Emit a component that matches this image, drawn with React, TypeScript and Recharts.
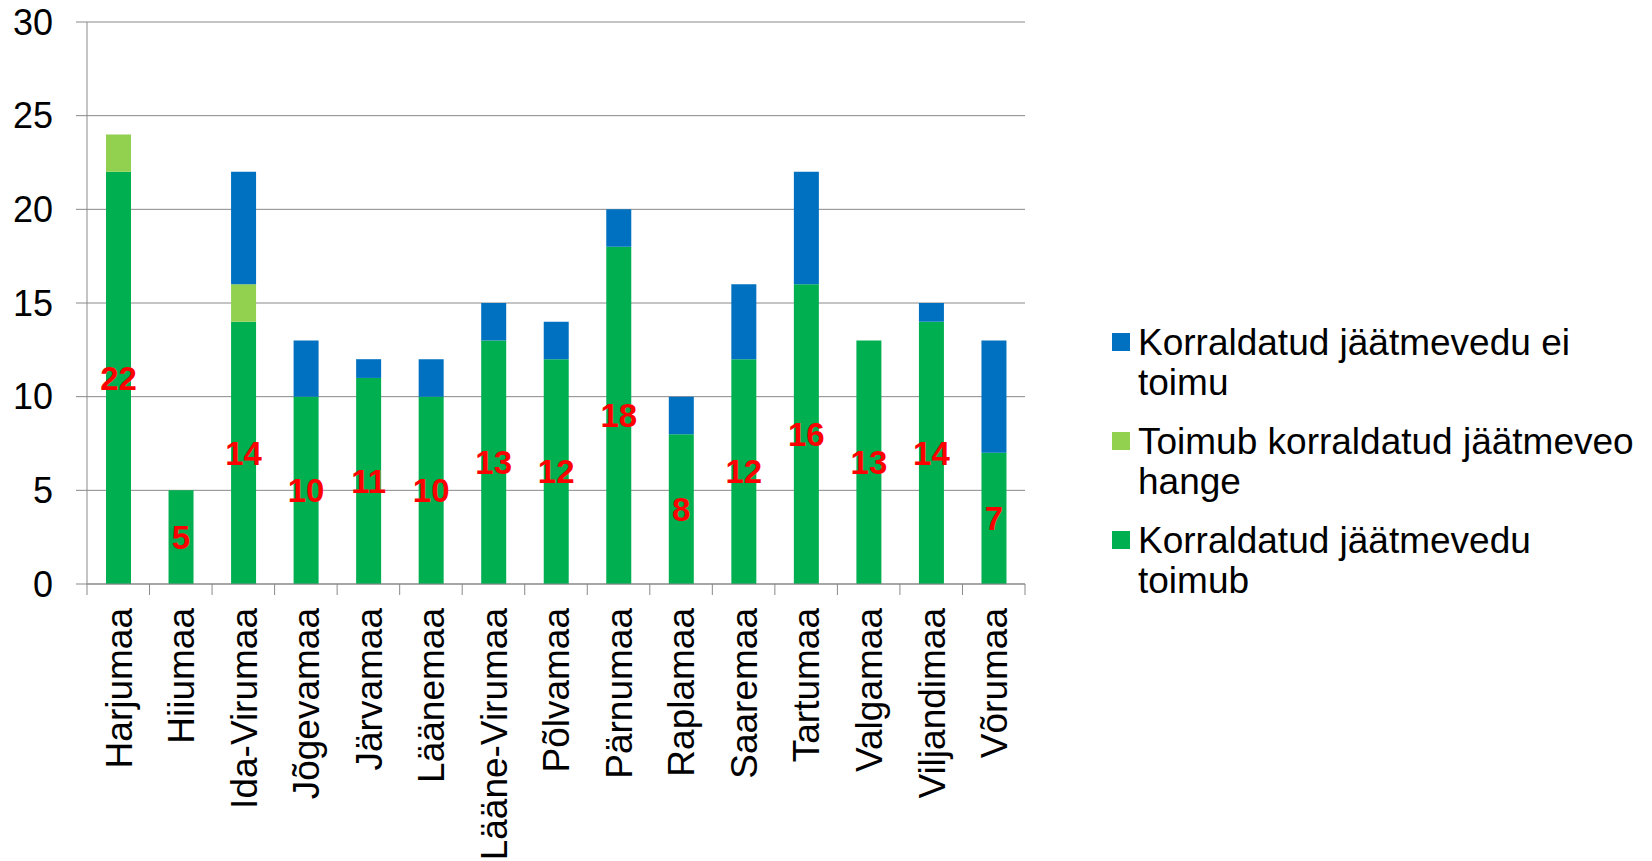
import React from "react";
import { BarChart, Bar, XAxis, YAxis, CartesianGrid, LabelList } from "recharts";

const categories = [
  "Harjumaa",
  "Hiiumaa",
  "Ida-Virumaa",
  "Jõgevamaa",
  "Järvamaa",
  "Läänemaa",
  "Lääne-Virumaa",
  "Põlvamaa",
  "Pärnumaa",
  "Raplamaa",
  "Saaremaa",
  "Tartumaa",
  "Valgamaa",
  "Viljandimaa",
  "Võrumaa",
];
const toimub = [22, 5, 14, 10, 11, 10, 13, 12, 18, 8, 12, 16, 13, 14, 7];
const hange = [2, 0, 2, 0, 0, 0, 0, 0, 0, 0, 0, 0, 0, 0, 0];
const eiToimu = [0, 0, 6, 3, 1, 2, 2, 2, 2, 2, 4, 6, 0, 1, 6];
const yTicks = [0, 5, 10, 15, 20, 25, 30];

// legend order as in the original (top to bottom), wrapped the same way
const legendItems = [
  { lines: ["Korraldatud jäätmevedu ei", "toimu"], color: "#0070C0" },
  { lines: ["Toimub korraldatud jäätmeveo", "hange"], color: "#92D050" },
  { lines: ["Korraldatud jäätmevedu", "toimub"], color: "#00B050" },
];

const data = categories.map((name, i) => ({
  name,
  toimub: toimub[i],
  hange: hange[i],
  eiToimu: eiToimu[i],
}));

const FONT = '"Liberation Sans", Arial, sans-serif';
const W = 1652;
const H = 861;
const Y_AXIS_W = 87;
const RIGHT = 627;
const STEP = (W - Y_AXIS_W - RIGHT) / categories.length;
const GRAY = "#898989";

const XTick = (props: any) => {
  const { x, y, payload, index } = props;
  return (
    <g>
      <line x1={x - STEP / 2} y1={y} x2={x - STEP / 2} y2={y + 11} stroke={GRAY} />
      {index === categories.length - 1 && (
        <line x1={x + STEP / 2} y1={y} x2={x + STEP / 2} y2={y + 11} stroke={GRAY} />
      )}
      <text
        x={x}
        y={y + 24}
        transform={`rotate(-90, ${x}, ${y + 24})`}
        textAnchor="end"
        dy="0.36em"
        fontSize={37}
        fontFamily={FONT}
        fill="#000"
      >
        {payload.value}
      </text>
    </g>
  );
};

const App = () => {
  return (
    <div style={{ position: "absolute", left: 0, top: 0, width: W, height: H, fontFamily: FONT }}>
      <BarChart
        width={W}
        height={H}
        data={data}
        margin={{ top: 22, right: RIGHT, left: 0, bottom: 0 }}
        barSize={25}
      >
        <CartesianGrid horizontal vertical={false} stroke={GRAY} />
        <XAxis
          dataKey="name"
          interval={0}
          height={277}
          tickSize={0}
          tickMargin={0}
          tickLine={false}
          axisLine={{ stroke: GRAY }}
          tick={<XTick />}
        />
        <YAxis
          width={Y_AXIS_W}
          domain={[0, 30]}
          ticks={yTicks}
          tickSize={11}
          tickMargin={23}
          tickLine={{ stroke: GRAY }}
          axisLine={{ stroke: GRAY }}
          tick={{ fontSize: 36, fill: "#000", fontFamily: FONT }}
        />
        <Bar dataKey="toimub" stackId="a" fill="#00B050" isAnimationActive={false}>
          <LabelList
            dataKey="toimub"
            position="center"
            fill="#FF0000"
            fontSize={33}
            fontWeight="bold"
            fontFamily={FONT}
          />
        </Bar>
        <Bar dataKey="hange" stackId="a" fill="#92D050" isAnimationActive={false} />
        <Bar dataKey="eiToimu" stackId="a" fill="#0070C0" isAnimationActive={false} />
      </BarChart>
      <div style={{ position: "absolute", left: 1112, top: 323 }}>
        {legendItems.map((item) => (
          <div key={item.lines[0]} style={{ display: "flex", marginBottom: 20 }}>
            <div
              style={{
                width: 18,
                height: 18,
                marginTop: 10,
                marginRight: 8,
                background: item.color,
                flexShrink: 0,
              }}
            />
            <div style={{ fontSize: 37, lineHeight: "39.5px", color: "#000", whiteSpace: "nowrap" }}>
              {item.lines.map((line) => (
                <div key={line}>{line}</div>
              ))}
            </div>
          </div>
        ))}
      </div>
    </div>
  );
};

export default App;
